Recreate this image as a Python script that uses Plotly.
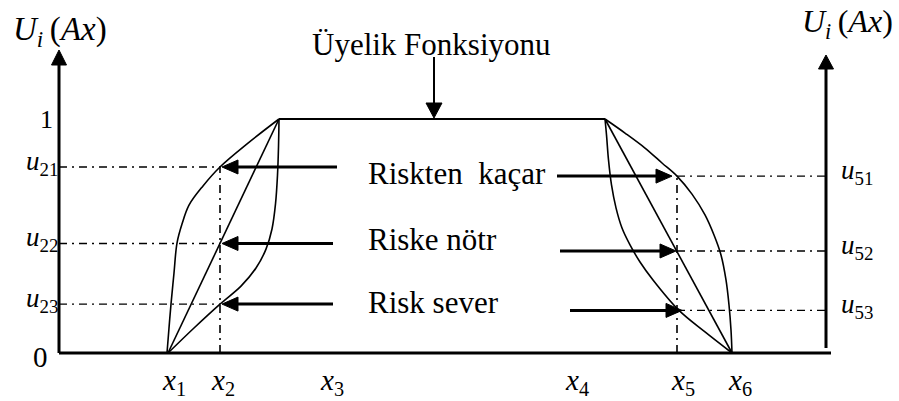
import plotly.graph_objects as go

# ---- diagram values -------------------------------------------------------
# horizontal positions (diagram units) and membership levels (0..1)
X1, X2, X5, X6 = 168, 220, 677, 732          # support / reading points
PLATEAU_L, PLATEAU_R = 279, 605              # corners where membership = 1
AXIS_L, AXIS_R, BASE_END = 59, 826, 831      # the two vertical axes

U21, U22, U23 = 0.795, 0.468, 0.209          # left-side readings
U51, U52, U53 = 0.756, 0.436, 0.182          # right-side readings

# rising side: risk averse (concave), risk neutral (linear), risk seeking (convex)
L_AVERSE_X = [167, 169, 171, 174, 177, 182, 189, 203, 220, 248, 279]
L_AVERSE_U = [0, 0.107, U23, 0.342, 0.470, 0.551, 0.632, 0.714, U21, 0.897, 1.0]
L_SEEK_X = [168, 194, 220, 241, 256, 266, 272, 275.5, 277.5, 278.5, 279]
L_SEEK_U = [0, 0.107, U23, 0.286, 0.363, 0.444, 0.530, 0.637, 0.760, 0.880, 1.0]
L_NEUTRAL_X = [X1, PLATEAU_L]
L_NEUTRAL_U = [0, 1]

# falling side
R_AVERSE_X = [605, 625, 645, 662, 677, 692, 705, 714, 721, 726, 729, 731, 732]
R_AVERSE_U = [1.0, 0.940, 0.876, 0.812, U51, 0.679, 0.590, 0.504, 0.419, 0.312, 0.205, 0.098, 0]
R_SEEK_X = [605, 606.5, 608.5, 611.5, 616, 622, 630, 640, 653, 679, 705, 732]
R_SEEK_U = [1.0, 0.932, 0.825, 0.718, 0.620, 0.534, 0.462, 0.389, 0.312, U53, 0.090, 0]
R_NEUTRAL_X = [PLATEAU_R, X6]
R_NEUTRAL_U = [1, 0]

X_TICK_POS = [160, 209, 318, 563, 669, 726]
X_TICK_TXT = ["1", "2", "3", "4", "5", "6"]

ROW_TEXT = ["Riskten\u00a0 kaçar", "Riske nötr", "Risk sever"]
LEFT_LEVELS = [U21, U22, U23]
RIGHT_LEVELS = [U51, U52, U53]
LEFT_LABELS = ["21", "22", "23"]
RIGHT_LABELS = ["51", "52", "53"]

# ---- canvas scale ---------------------------------------------------------
W, H = 899, 401
PX_PER_U = 234.0               # pixels for one membership unit
Y_BOTTOM = -48 / PX_PER_U
Y_TOP = 353 / PX_PER_U
FONT = "Liberation Serif"
DASHDOT = "8px,5px,2px,5px"

fig = go.Figure()


def line(xs, us, width=1.6, dash=None, smooth=False):
    fig.add_trace(go.Scatter(
        x=xs, y=us, mode="lines", hoverinfo="skip", showlegend=False,
        line=dict(color="black", width=width, dash=dash,
                  shape="spline" if smooth else "linear",
                  smoothing=1.0 if smooth else None)))


def head(tx, tu, direction, length=15, half=7):
    """filled triangular arrowhead with its tip at (tx, tu)"""
    lu = length / PX_PER_U
    hu = half / PX_PER_U
    if direction == "left":
        xs, us = [tx, tx + length, tx + length], [tu, tu + hu, tu - hu]
    elif direction == "right":
        xs, us = [tx, tx - length, tx - length], [tu, tu + hu, tu - hu]
    elif direction == "up":
        xs, us = [tx, tx - half, tx + half], [tu, tu - lu, tu - lu]
    else:
        xs, us = [tx, tx - half, tx + half], [tu, tu + lu, tu + lu]
    fig.add_trace(go.Scatter(
        x=xs + [xs[0]], y=us + [us[0]], mode="lines", fill="toself",
        fillcolor="black", line=dict(color="black", width=1),
        hoverinfo="skip", showlegend=False))


def to_u(py):
    return (353 - py) / PX_PER_U


# axes
line([AXIS_L, AXIS_L], [0, to_u(62)], width=3)
head(AXIS_L, to_u(50), "up", length=15, half=7.5)
line([AXIS_R, AXIS_R], [to_u(348), to_u(66)], width=3)
head(AXIS_R, to_u(55), "up", length=14, half=7.5)
line([AXIS_L, BASE_END], [0, 0], width=3)

# membership function: plateau and the three shapes on each side
line([PLATEAU_L, PLATEAU_R], [1, 1], width=2)
line(L_NEUTRAL_X, L_NEUTRAL_U)
line(L_AVERSE_X, L_AVERSE_U, smooth=True)
line(L_SEEK_X, L_SEEK_U, smooth=True)
line(R_NEUTRAL_X, R_NEUTRAL_U)
line(R_AVERSE_X, R_AVERSE_U, smooth=True)
line(R_SEEK_X, R_SEEK_U, smooth=True)

# reading guides
line([X2, X2], [0, U21], width=1.6, dash=DASHDOT)
line([X5, X5], [0, U51], width=1.6, dash=DASHDOT)
for lv in LEFT_LEVELS:
    line([AXIS_L, X2], [lv, lv], width=1.4, dash=DASHDOT)
for lv in RIGHT_LEVELS:
    line([X5, AXIS_R + 4], [lv, lv], width=1.4, dash=DASHDOT)

# pointer arrows
left_tails = [337, 333, 333]
right_tails = [557, 560, 570]
right_tips = [672, 676, 682]
for lv, tail in zip(LEFT_LEVELS, left_tails):
    line([tail, X2 + 14], [lv, lv], width=3)
    head(X2 + 2, lv, "left", length=16, half=7)
for lv, tail, tip in zip(RIGHT_LEVELS, right_tails, right_tips):
    line([tail, tip - 14], [lv, lv], width=3)
    head(tip, lv, "right", length=16, half=7)

# arrow to the plateau
line([434, 434], [to_u(57), to_u(104)], width=2)
head(434, 1 + 1 / PX_PER_U, "down", length=15, half=8)

# ---- text -----------------------------------------------------------------
ann = []


def text(x, u, s, size, xanchor="left"):
    ann.append(dict(x=x, y=u, xref="x", yref="y", text=s, showarrow=False,
                    xanchor=xanchor, yanchor="middle",
                    font=dict(family=FONT, size=size, color="black")))


text(431, to_u(44), "Üyelik Fonksiyonu", 31, xanchor="center")
row_mid = [to_u(173), to_u(239), to_u(302)]
for s, um in zip(ROW_TEXT, row_mid):
    text(366, um, s, 31)

U_LABEL = "<i>U</i><sub><i>i</i></sub>\u2009(<i>Ax</i>)"
text(11, to_u(31), U_LABEL, 33)
text(800, to_u(23), U_LABEL, 32)

text(46, 1.0, "1", 26, xanchor="center")
text(40, to_u(357), "0", 29, xanchor="center")

for lv, s in zip(LEFT_LEVELS, LEFT_LABELS):
    text(24, lv + 4 / PX_PER_U, f"<i>u</i><sub>{s}</sub>", 27)
for lv, s in zip(RIGHT_LEVELS, RIGHT_LABELS):
    text(839, lv + 4 / PX_PER_U, f"<i>u</i><sub>{s}</sub>", 27)

for xp, s in zip(X_TICK_POS, X_TICK_TXT):
    text(xp, to_u(382), f"<i>x</i><sub>{s}</sub>", 29)

fig.update_layout(
    width=W, height=H, margin=dict(l=0, r=0, t=0, b=0),
    paper_bgcolor="white", plot_bgcolor="white",
    xaxis=dict(range=[0, W], visible=False, fixedrange=True),
    yaxis=dict(range=[Y_BOTTOM, Y_TOP], visible=False, fixedrange=True),
    annotations=ann, showlegend=False,
)

fig.write_html("out.html")
